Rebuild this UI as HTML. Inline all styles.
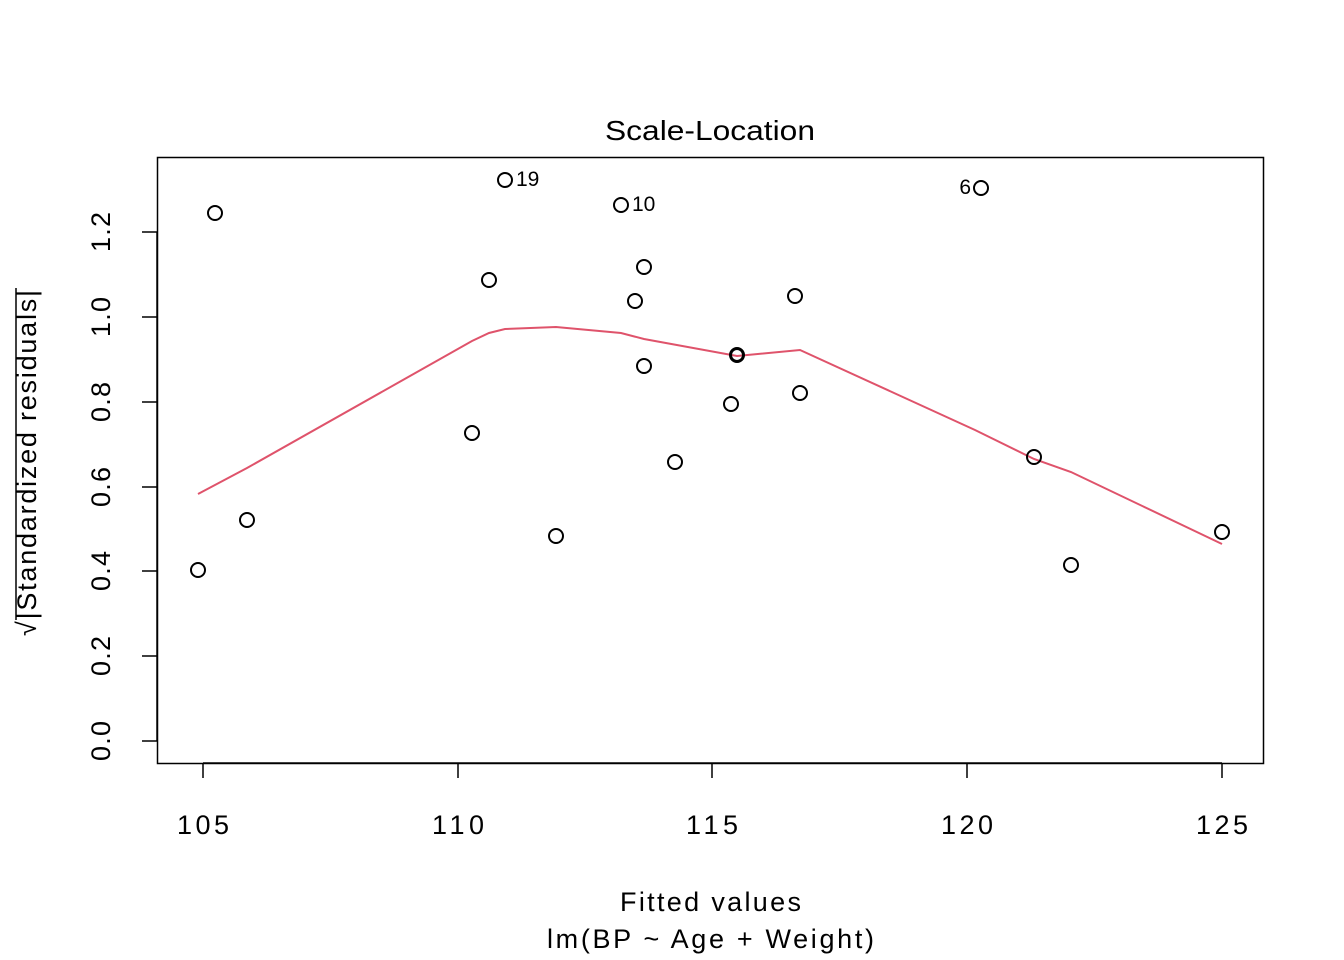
<!DOCTYPE html>
<html><head><meta charset="utf-8"><style>
html,body{margin:0;padding:0;background:#fff;}
svg{display:block;font-family:"Liberation Sans",Arial,sans-serif;}
</style></head><body>
<svg width="1344" height="960" viewBox="0 0 1344 960" xmlns="http://www.w3.org/2000/svg">
<rect x="0" y="0" width="1344" height="960" fill="#fff"/>
<rect x="157.5" y="157.5" width="1106" height="606" fill="none" stroke="#000" stroke-width="1.5"/>
<text x="605" y="140" font-size="28" textLength="210" lengthAdjust="spacingAndGlyphs">Scale-Location</text>
<!-- x axis -->
<g stroke="#000" stroke-width="1.5">
<line x1="203" y1="763" x2="1222" y2="763"/>
<line x1="203" y1="763" x2="203" y2="778"/>
<line x1="458" y1="763" x2="458" y2="778"/>
<line x1="712" y1="763" x2="712" y2="778"/>
<line x1="967" y1="763" x2="967" y2="778"/>
<line x1="1222" y1="763" x2="1222" y2="778"/>
</g>
<g font-size="27" lengthAdjust="spacingAndGlyphs">
<text x="177" y="834" textLength="52">105</text>
<text x="432" y="834" textLength="52">110</text>
<text x="686" y="834" textLength="52">115</text>
<text x="941" y="834" textLength="52">120</text>
<text x="1196" y="834" textLength="52">125</text>
<text x="620" y="911" textLength="181">Fitted values</text>
<text x="547" y="948" textLength="327">lm(BP ~ Age + Weight)</text>
</g>
<!-- y axis -->
<g stroke="#000" stroke-width="1.5">
<line x1="157" y1="741" x2="157" y2="232"/>
<line x1="142" y1="741" x2="157" y2="741"/>
<line x1="142" y1="656" x2="157" y2="656"/>
<line x1="142" y1="571" x2="157" y2="571"/>
<line x1="142" y1="487" x2="157" y2="487"/>
<line x1="142" y1="402" x2="157" y2="402"/>
<line x1="142" y1="317" x2="157" y2="317"/>
<line x1="142" y1="232" x2="157" y2="232"/>
</g>
<g font-size="27" lengthAdjust="spacingAndGlyphs">
<text transform="translate(110,761) rotate(-90)" textLength="40">0.0</text>
<text transform="translate(110,676) rotate(-90)" textLength="40">0.2</text>
<text transform="translate(110,591) rotate(-90)" textLength="40">0.4</text>
<text transform="translate(110,507) rotate(-90)" textLength="40">0.6</text>
<text transform="translate(110,422) rotate(-90)" textLength="40">0.8</text>
<text transform="translate(110,337) rotate(-90)" textLength="40">1.0</text>
<text transform="translate(110,252) rotate(-90)" textLength="40">1.2</text>
<text transform="translate(36,636) rotate(-90)" textLength="346">√|Standardized residuals|</text>
</g>
<line x1="16" y1="288" x2="16" y2="620" stroke="#000" stroke-width="1.5"/>
<polyline fill="none" stroke="#DF536B" stroke-width="2" points="198,494 247,468 472,341 489,333 505,329 556,327 621,333 644,339 737,356 800,350 975,430 1034,459 1071,472 1222,544"/>
<g fill="none" stroke="#000" stroke-width="2">
<circle cx="198" cy="570" r="7"/><circle cx="215" cy="213" r="7"/><circle cx="247" cy="520" r="7"/>
<circle cx="472" cy="433" r="7"/><circle cx="489" cy="280" r="7"/><circle cx="505" cy="180" r="7"/>
<circle cx="556" cy="536" r="7"/><circle cx="621" cy="205" r="7"/><circle cx="635" cy="301" r="7"/>
<circle cx="644" cy="267" r="7"/><circle cx="644" cy="366" r="7"/><circle cx="675" cy="462" r="7"/>
<circle cx="731" cy="404" r="7"/><circle cx="737" cy="355" r="7"/><circle cx="737" cy="355" r="6"/>
<circle cx="795" cy="296" r="7"/><circle cx="800" cy="393" r="7"/><circle cx="981" cy="188" r="7"/>
<circle cx="1034" cy="457" r="7"/><circle cx="1071" cy="565" r="7"/><circle cx="1222" cy="532" r="7"/>
</g>
<g font-size="21">
<text x="516" y="186">19</text>
<text x="632" y="211">10</text>
<text x="971" y="194" text-anchor="end">6</text>
</g>
</svg>
</body></html>
